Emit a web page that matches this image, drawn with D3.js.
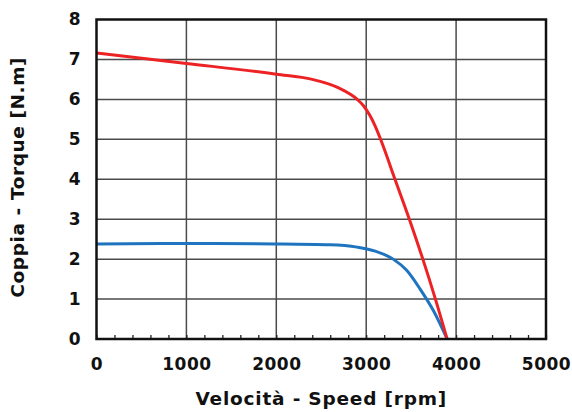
<!DOCTYPE html>
<html>
<head>
<meta charset="utf-8">
<script src="https://cdn.jsdelivr.net/npm/d3@7"></script>
<style>
  body { margin: 0; background: #fff; }
  svg text { font-family: "DejaVu Sans", Verdana, sans-serif; font-weight: bold; fill: #111; }
</style>
</head>
<body>
<div id="chart"></div>
<script>
// torque curves: [rpm, N.m]
var redCurve = [[0, 7.16], [1000, 6.9], [2000, 6.63], [2400, 6.5], [2700, 6.28], [2900, 6.0],
  [2970, 5.84], [3040, 5.6], [3100, 5.33], [3160, 5.0], [3320, 4.0], [3480, 3.0], [3630, 2.0],
  [3770, 1.0], [3900, 0]];
var blueCurve = [[0, 2.38], [1000, 2.39], [2000, 2.38], [2600, 2.36], [2900, 2.3], [3100, 2.2],
  [3300, 2.0], [3450, 1.72], [3600, 1.25], [3750, 0.7], [3900, 0]];
var xTicks = [0, 1000, 2000, 3000, 4000, 5000];
var yTicks = [0, 1, 2, 3, 4, 5, 6, 7, 8];
var xTitle = "Velocità - Speed [rpm]";
var yTitle = "Coppia - Torque [N.m]";

var margin = {top: 19.5, right: 26, bottom: 73, left: 96.5};
var width = 572 - margin.left - margin.right;
var height = 412 - margin.top - margin.bottom;

var x = d3.scaleLinear().domain([0, 5000]).range([0, width]);
var y = d3.scaleLinear().domain([0, 8]).range([height, 0]);

var svg = d3.select("#chart")
  .append("svg")
    .attr("width", 572)
    .attr("height", 412)
  .append("g")
    .attr("transform", "translate(" + [margin.left, margin.top] + ")");

// grid
svg.append("g")
  .selectAll("line.vg")
  .data(xTicks.slice(1, -1))
  .enter().append("line")
    .attr("x1", function(d){ return x(d); })
    .attr("x2", function(d){ return x(d); })
    .attr("y1", 0).attr("y2", height)
    .attr("stroke", "#4a4a4a").attr("stroke-width", 1.5);

svg.append("g")
  .selectAll("line.hg")
  .data(yTicks.slice(1, -1))
  .enter().append("line")
    .attr("y1", function(d){ return y(d); })
    .attr("y2", function(d){ return y(d); })
    .attr("x1", 0).attr("x2", width)
    .attr("stroke", "#4a4a4a").attr("stroke-width", 1.5);

// minor ticks on the bottom, pointing inside
var minor = d3.range(0, 5001, 200);
svg.append("g")
  .attr("transform", "translate(0," + height + ")")
  .call(d3.axisTop(x).tickValues(minor).tickSize(4).tickFormat(""))
  .call(function(g){
    g.select(".domain").remove();
    g.selectAll("line").attr("stroke", "#222").attr("stroke-width", 1.3);
  });

// tick labels
var xAxis = d3.axisBottom(x).tickValues(xTicks).tickSize(0).tickPadding(19).tickFormat(d3.format("d"));
svg.append("g")
  .attr("class", "x axis")
  .attr("transform", "translate(0," + height + ")")
  .call(xAxis)
  .call(function(g){
    g.select(".domain").remove();
    g.selectAll("text").style("font-size", "17px").style("letter-spacing", "0.5px").attr("fill", "#111");
  });

var yAxis = d3.axisLeft(y).tickValues(yTicks).tickSize(0).tickPadding(16);
svg.append("g")
  .attr("class", "y axis")
  .call(yAxis)
  .call(function(g){
    g.select(".domain").remove();
    g.selectAll("text").style("font-size", "17px").attr("fill", "#111");
  });

var line = d3.line()
  .curve(d3.curveMonotoneX)
  .x(function(d){ return x(d[0]); })
  .y(function(d){ return y(d[1]); });

svg.append("path")
  .datum(blueCurve)
  .attr("d", line)
  .attr("fill", "none")
  .attr("stroke", "#1f74c0")
  .attr("stroke-width", 3);

svg.append("path")
  .datum(redCurve)
  .attr("d", line)
  .attr("fill", "none")
  .attr("stroke", "#ec2224")
  .attr("stroke-width", 3);

// frame
svg.append("rect")
  .attr("width", width)
  .attr("height", height)
  .attr("fill", "none")
  .attr("stroke", "#111")
  .attr("stroke-width", 2.5);

svg.append("text")
  .attr("transform", "translate(" + (width / 2) + "," + (height + 66) + ")")
  .attr("text-anchor", "middle")
  .style("font-size", "18.5px")
  .style("letter-spacing", "0.8px")
  .text(xTitle);

svg.append("text")
  .attr("transform", "translate(-73," + (height / 2 - 2) + ")rotate(-90)")
  .attr("text-anchor", "middle")
  .style("font-size", "18.5px")
  .style("letter-spacing", "0.6px")
  .text(yTitle);
</script>
</body>
</html>
